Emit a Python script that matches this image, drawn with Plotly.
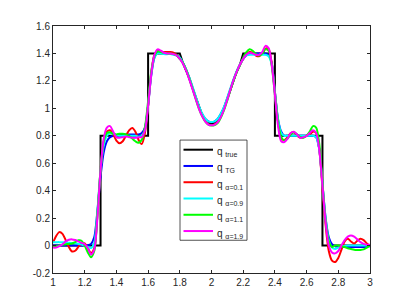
import numpy as np
import plotly.graph_objects as go

# sample positions
x_grid = np.round(np.linspace(1.0, 3.0, 101), 2)

# true profile
x_true = [1.0, 1.3, 1.3, 1.6, 1.6, 1.8, 1.82, 1.84, 1.86, 1.88, 1.90, 1.92, 1.94, 1.96, 1.98, 2.0,
          2.02, 2.04, 2.06, 2.08, 2.10, 2.12, 2.14, 2.16, 2.18, 2.2, 2.4, 2.4, 2.7, 2.7, 3.0]
q_true = [0.0, 0.0, 0.8, 0.8, 1.4, 1.4, 1.33, 1.28, 1.22, 1.15, 1.08, 1.01, 0.955, 0.915, 0.895, 0.89,
          0.895, 0.915, 0.955, 1.005, 1.07, 1.14, 1.21, 1.27, 1.32, 1.4, 1.4, 0.8, 0.8, 0.0, 0.0]

q_TG = [0, 0, 0, 0, 0, 0, 0, 0, 0, 0,
        0, 0.002, 0.012,
        0.06, 0.25, 0.50, 0.68, 0.76,
        0.79, 0.80, 0.805, 0.81, 0.81, 0.81, 0.81, 0.81, 0.81, 0.81, 0.82,
        0.86, 1.02, 1.24, 1.37, 1.405,
        1.41, 1.41, 1.41, 1.405, 1.40, 1.39, 1.365,
        1.33, 1.28, 1.22, 1.15, 1.08, 1.015, 0.96, 0.925, 0.905, 0.898, 0.905, 0.925, 0.96, 1.01, 1.075, 1.14, 1.21, 1.27, 1.32,
        1.36, 1.385, 1.395, 1.40, 1.40, 1.40, 1.40, 1.40, 1.39,
        1.33, 1.12, 0.92, 0.83, 0.80,
        0.80, 0.80, 0.80, 0.80, 0.80, 0.80, 0.80, 0.80, 0.80, 0.79,
        0.70, 0.45, 0.20, 0.06, 0.01,
        -0.005, -0.008, -0.01, -0.01, -0.01, -0.01, -0.01, -0.01, -0.01, -0.01, -0.008, -0.005]

q_a01 = [0.02, 0.07, 0.098, 0.085, 0.04, -0.01, -0.043, -0.038, -0.01, 0.015,
         0.015, -0.02, -0.055,
         -0.02, 0.22, 0.55, 0.75, 0.83,
         0.84, 0.81, 0.765, 0.745, 0.76, 0.80, 0.84, 0.857, 0.83, 0.77, 0.74,
         0.82, 1.02, 1.26, 1.39, 1.42,
         1.415, 1.41, 1.41, 1.41, 1.405, 1.39, 1.365,
         1.33, 1.28, 1.22, 1.15, 1.08, 1.01, 0.955, 0.91, 0.885, 0.878, 0.885, 0.905, 0.945, 1.0, 1.07, 1.14, 1.21, 1.27, 1.32,
         1.36, 1.395, 1.41, 1.405, 1.385, 1.38, 1.395, 1.435, 1.43,
         1.33, 1.12, 0.90, 0.78, 0.77,
         0.79, 0.82, 0.825, 0.80, 0.785, 0.79, 0.80, 0.81, 0.83, 0.82,
         0.70, 0.42, 0.15, -0.04, -0.11,
         -0.12, -0.09, -0.03, 0.03, 0.05, 0.03, 0.015, 0.035, 0.05, 0.04, 0.015, 0.0]

q_a09 = [0.025, 0.025, 0.025, 0.024, 0.022, 0.02, 0.018, 0.015, 0.012, 0.008,
         0.0, -0.01, -0.018,
         0.02, 0.25, 0.55, 0.73, 0.80,
         0.82, 0.815, 0.805, 0.80, 0.80, 0.80, 0.80, 0.80, 0.80, 0.795, 0.80,
         0.85, 1.03, 1.25, 1.37, 1.40,
         1.40, 1.395, 1.395, 1.395, 1.39, 1.385, 1.37,
         1.335, 1.285, 1.225, 1.16, 1.09, 1.02, 0.965, 0.925, 0.905, 0.90, 0.905, 0.925, 0.965, 1.015, 1.08, 1.15, 1.215, 1.275, 1.32,
         1.36, 1.385, 1.39, 1.39, 1.39, 1.39, 1.39, 1.39, 1.38,
         1.32, 1.12, 0.92, 0.82, 0.80,
         0.80, 0.80, 0.80, 0.80, 0.80, 0.80, 0.80, 0.80, 0.80, 0.79,
         0.70, 0.45, 0.20, 0.04, -0.015,
         -0.025, -0.015, -0.005, -0.003, 0, 0, 0, 0, 0, 0, 0, 0]

q_a11 = [-0.01, -0.005, 0.0, 0.005, 0.01, 0.012, 0.015, 0.025, 0.038, 0.035,
         0.0, -0.05, -0.085,
         -0.04, 0.22, 0.55, 0.76, 0.82,
         0.825, 0.815, 0.81, 0.815, 0.815, 0.81, 0.80, 0.78, 0.76, 0.75, 0.77,
         0.86, 1.05, 1.27, 1.38, 1.415,
         1.41, 1.405, 1.40, 1.40, 1.395, 1.385, 1.36,
         1.33, 1.28, 1.215, 1.145, 1.07, 1.0, 0.945, 0.905, 0.882, 0.875, 0.878, 0.895, 0.935, 0.99, 1.06, 1.135, 1.205, 1.265, 1.315,
         1.37, 1.41, 1.43, 1.42, 1.395, 1.385, 1.40, 1.43, 1.42,
         1.31, 1.10, 0.90, 0.79, 0.765,
         0.78, 0.81, 0.825, 0.81, 0.79, 0.785, 0.80, 0.83, 0.87, 0.86,
         0.74, 0.46, 0.18, 0.03, -0.01,
         0.0, 0.0, -0.005, -0.01, -0.02, -0.025, -0.03, -0.032, -0.032, -0.028, -0.015, 0.0]

q_a19 = [-0.015, -0.015, -0.005, 0.01, 0.03, 0.042, 0.045, 0.04, 0.03, 0.02,
         0.01, -0.02, -0.065,
         -0.03, 0.20, 0.55, 0.78, 0.86,
         0.87, 0.83, 0.79, 0.785, 0.79, 0.795, 0.79, 0.785, 0.785, 0.79, 0.79,
         0.84, 1.02, 1.25, 1.39, 1.43,
         1.42, 1.405, 1.40, 1.40, 1.395, 1.385, 1.36,
         1.325, 1.275, 1.21, 1.14, 1.07, 1.0, 0.945, 0.905, 0.882, 0.876, 0.882, 0.90, 0.94, 0.995, 1.065, 1.14, 1.21, 1.27, 1.32,
         1.36, 1.39, 1.405, 1.40, 1.39, 1.39, 1.41, 1.455, 1.44,
         1.32, 1.10, 0.87, 0.76, 0.755,
         0.78, 0.82, 0.83, 0.81, 0.785, 0.79, 0.80, 0.82, 0.84, 0.82,
         0.70, 0.44, 0.17, 0.0, -0.05,
         -0.057, -0.04, 0.0, 0.04, 0.065, 0.074, 0.065, 0.045, 0.025, 0.012, 0.006, 0.005]

legend_labels = ["q <sub>true</sub>", "q <sub>TG</sub>", "q <sub>α=0.1</sub>", "q <sub>α=0.9</sub>",
                 "q <sub>α=1.1</sub>", "q <sub>α=1.9</sub>"]
legend_colors = ["#000000", "#0000FF", "#FF0000", "#00FFFF", "#00FF00", "#FF00FF"]
series_vals = [q_TG, q_a01, q_a09, q_a11, q_a19]

x_ticks = [1, 1.2, 1.4, 1.6, 1.8, 2, 2.2, 2.4, 2.6, 2.8, 3]
x_labels = ["1", "1.2", "1.4", "1.6", "1.8", "2", "2.2", "2.4", "2.6", "2.8", "3"]
y_ticks = [-0.2, 0, 0.2, 0.4, 0.6, 0.8, 1, 1.2, 1.4, 1.6]
y_labels = ["-0.2", "0", "0.2", "0.4", "0.6", "0.8", "1", "1.2", "1.4", "1.6"]

fig = go.Figure()
fig.add_trace(go.Scatter(x=x_true, y=q_true, mode="lines", name=legend_labels[0],
                         line=dict(color=legend_colors[0], width=2)))
for nm, vals, col in zip(legend_labels[1:], series_vals, legend_colors[1:]):
    fig.add_trace(go.Scatter(x=x_grid, y=vals, mode="lines", name=nm,
                             line=dict(color=col, width=2, shape="spline", smoothing=0.8)))

axis_common = dict(showgrid=False, zeroline=False, showline=True, mirror="allticks",
                   linecolor="#262626", linewidth=1, ticks="inside", ticklen=3,
                   tickcolor="#262626", tickfont=dict(size=10, color="#262626"))
fig.update_xaxes(range=[1, 3], tickvals=x_ticks, ticktext=x_labels, **axis_common)
fig.update_yaxes(range=[-0.2, 1.6], tickvals=y_ticks, ticktext=y_labels, **axis_common)

# Legend box drawn manually (paper coordinates of the plot area)
PL, PR, PT, PB = 53.0, 370.0, 24.0, 273.0
def px(v):
    return (v - PL) / (PR - PL)
def py(v):
    return (PB - v) / (PB - PT)

shapes = [dict(type="rect", xref="paper", yref="paper", x0=px(180), x1=px(247), y0=py(240), y1=py(139),
               line=dict(color="#262626", width=0.8), fillcolor="white", layer="above")]
annotations = []
for i, (lab, col) in enumerate(zip(legend_labels, legend_colors)):
    yy = 148.7 + 16.4 * i
    shapes.append(dict(type="line", xref="paper", yref="paper", x0=px(183.5), x1=px(213),
                       y0=py(yy), y1=py(yy), line=dict(color=col, width=2), layer="above"))
    annotations.append(dict(xref="paper", yref="paper", x=px(214.5), y=py(yy + 2.5), text=lab,
                            showarrow=False, xanchor="left", yanchor="middle",
                            font=dict(size=10, color="#262626")))

fig.update_layout(
    width=401, height=299,
    margin=dict(l=45, r=39, t=16, b=34),
    plot_bgcolor="white", paper_bgcolor="white",
    font=dict(family="Liberation Sans, Arial, sans-serif", size=10, color="#262626"),
    showlegend=False,
    shapes=shapes,
    annotations=annotations,
)

fig.write_html("out.html")
